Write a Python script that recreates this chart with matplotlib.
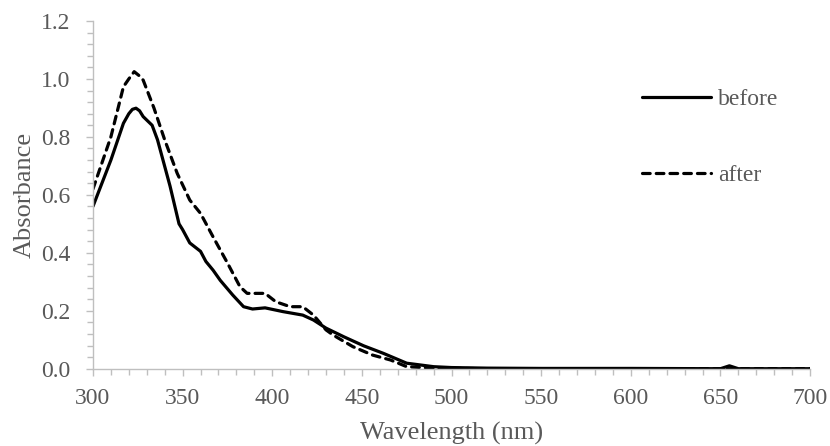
import matplotlib
matplotlib.use("Agg")
import matplotlib.pyplot as plt
from matplotlib.ticker import MultipleLocator, FormatStrFormatter

# spectra
wl_before = [300, 305, 310, 317, 320, 322, 324, 326, 328, 333, 336, 343, 348, 350, 354,
             360, 363, 367, 371, 378, 384, 389, 396, 406, 417, 423, 430, 440, 451,
             462, 475, 490, 500, 520, 550, 600, 650, 653, 655, 657, 660, 700]
abs_before = [0.56, 0.64, 0.72, 0.847, 0.88, 0.895, 0.899, 0.89, 0.87, 0.84, 0.79, 0.63,
              0.50, 0.48, 0.434, 0.405, 0.37, 0.34, 0.305, 0.254, 0.214, 0.206, 0.21,
              0.197, 0.185, 0.168, 0.14, 0.11, 0.079, 0.053, 0.019, 0.007, 0.004, 0.002,
              0.001, 0.001, 0.0, 0.006, 0.01, 0.006, 0.0, 0.0]

wl_after = [300, 305, 310, 317, 320, 323, 326, 328, 334, 340, 347, 354, 360, 367, 375,
            382, 386, 396, 402, 410, 417, 423, 430, 434, 445, 456, 466, 475, 490, 520, 700]
abs_after = [0.62, 0.71, 0.80, 0.973, 1.0, 1.025, 1.01, 0.996, 0.90, 0.79, 0.674, 0.582,
             0.536, 0.455, 0.365, 0.283, 0.26, 0.26, 0.231, 0.214, 0.214, 0.185, 0.134,
             0.116, 0.076, 0.047, 0.03, 0.007, 0.002, 0.0, 0.0]

labels = ["before", "after"]

plt.rcParams['font.family'] = ['Liberation Serif', 'DejaVu Serif']
grey_txt = '#595959'
grey_ax = '#bfbfbf'
fs = 17
fs_title = 19

fig = plt.figure(figsize=(8.3, 4.46), dpi=100)
ax = fig.add_axes([0.112, 0.1733, 0.864, 0.7797])

ax.plot(wl_before, abs_before, color='black', lw=2.3, solid_joinstyle='round',
        solid_capstyle='round', label=labels[0])
ax.plot(wl_after, abs_after, color='black', lw=2.3, linestyle=(0, (2.4, 1.9)),
        dash_capstyle='round', label=labels[1])

ax.set_xlim(300, 700)
ax.set_ylim(0, 1.2)
ax.xaxis.set_major_locator(MultipleLocator(50))
ax.xaxis.set_minor_locator(MultipleLocator(10))
ax.yaxis.set_major_locator(MultipleLocator(0.2))
ax.yaxis.set_minor_locator(MultipleLocator(0.04))
ax.yaxis.set_major_formatter(FormatStrFormatter('%.1f'))

for s in ['top', 'right']:
    ax.spines[s].set_visible(False)
for s in ['left', 'bottom']:
    ax.spines[s].set_color(grey_ax)
    ax.spines[s].set_linewidth(1.0)

ax.tick_params(which='both', direction='out', color=grey_ax, width=1.0)
ax.tick_params(which='major', length=5, labelsize=fs, labelcolor=grey_txt)
ax.tick_params(which='minor', length=4)
ax.tick_params(axis='y', which='major', pad=11)
ax.tick_params(axis='x', which='major', pad=9)

ax.set_xlabel('Wavelength (nm)', fontsize=fs_title, color=grey_txt, labelpad=9)
ax.set_ylabel('Absorbance', fontsize=fs_title, color=grey_txt, labelpad=4)

leg = ax.legend(loc='upper left', bbox_to_anchor=(0.766, 0.806), frameon=False,
                fontsize=fs, handlelength=2.9, handletextpad=0.3, labelspacing=2.3,
                borderpad=0, borderaxespad=0)
for t in leg.get_texts():
    t.set_color(grey_txt)

fig.savefig('out.png', dpi=100)
